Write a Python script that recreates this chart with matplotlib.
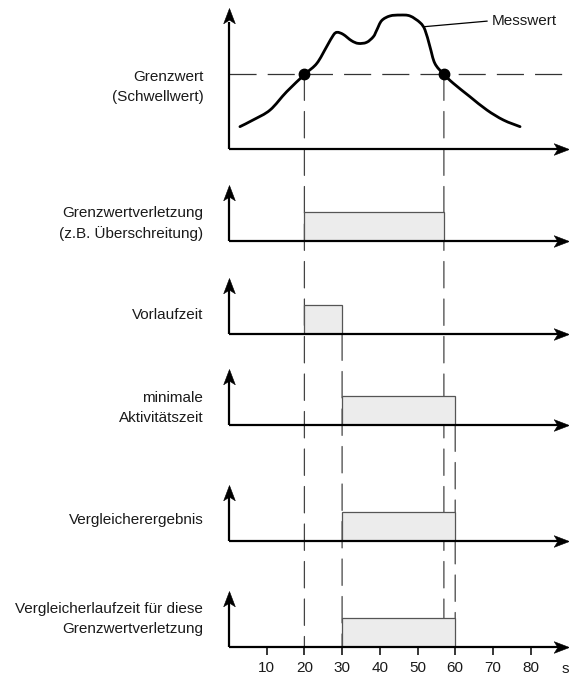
import matplotlib
matplotlib.use("Agg")
import matplotlib.pyplot as plt
from matplotlib.patches import ConnectionPatch, PathPatch
from matplotlib.path import Path

plt.rcParams['font.family'] = ['Liberation Sans', 'DejaVu Sans']
plt.rcParams['lines.scale_dashes'] = False

# ---------------- data ----------------
curve_t = [2.9, 6.5, 10.9, 15.3, 20.2, 23.3, 25.9, 27.7, 28.7, 30.3, 32.5, 34.3,
           36.5, 38.3, 39.2, 40.5, 42.7, 45.4, 48.0, 50.7, 52.0, 53.3, 54.6,
           56.9, 59.5, 63.9, 68.4, 72.8, 77.2]
curve_v = [14.9, 19.5, 26.0, 38.2, 50.0, 57.1, 68.2, 76.0, 77.8, 76.4, 72.2, 70.4,
           71.1, 74.9, 79.3, 85.6, 88.7, 89.3, 88.7, 84.2, 79.3, 68.2, 57.1,
           50.0, 43.8, 34.9, 26.0, 19.3, 14.9]
threshold = 50
crossings = [20, 57]

labels = [
    ["Grenzwert", "(Schwellwert)"],
    ["Grenzwertverletzung", "(z.B. Überschreitung)"],
    ["Vorlaufzeit"],
    ["minimale", "Aktivitätszeit"],
    ["Vergleicherergebnis"],
    ["Vergleicherlaufzeit für diese", "Grenzwertverletzung"],
]
box_start = [20, 20, 30, 30, 30]
box_end = [57, 30, 60, 60, 60]

tick_values = [10, 20, 30, 40, 50, 60, 70, 80]
unit_label = "s"
curve_label = "Messwert"

# ---------------- layout ----------------
W, H = 569, 675
X0 = 229.0          # pixel of t = 0
PPS = 3.77          # pixels per second
XMIN = -3.0
XMAX = (W - X0) / PPS
left_px = X0 + XMIN * PPS

fig = plt.figure(figsize=(W / 100, H / 100), dpi=100)
TXT = '#1a1a1a'
FS = 11


def add_panel(base_px, top_px):
    ax = fig.add_axes([left_px / W, (H - base_px) / H, (W - left_px) / W,
                       (base_px - top_px) / H])
    ax.set_xlim(XMIN, XMAX)
    ax.patch.set_alpha(0)
    for s in ax.spines.values():
        s.set_visible(False)
    ax.set_yticks([])
    ax.set_xticks([])
    return ax


up_head = Path([(0, 0), (-0.38, -1), (0, -0.76), (0.38, -1), (0, 0)],
               [Path.MOVETO, Path.LINETO, Path.LINETO, Path.LINETO, Path.CLOSEPOLY])
right_head = Path([(0, 0), (-1, 0.38), (-0.76, 0), (-1, -0.38), (0, 0)],
                  [Path.MOVETO, Path.LINETO, Path.LINETO, Path.LINETO, Path.CLOSEPOLY])


def draw_axes_arrows(ax, ytop):
    x_end = (568.5 - X0) / PPS
    ax.plot([0, 0], [0, ytop * 0.9], color='k', lw=1.6, clip_on=False,
            solid_capstyle='butt', zorder=4)
    ax.plot([0, x_end - 2], [0, 0], color='k', lw=1.6, clip_on=False,
            solid_capstyle='butt', zorder=4)
    ax.plot([0], [ytop], marker=up_head, ms=22, mew=0.4, color='k',
            clip_on=False, zorder=5)
    ax.plot([x_end], [0], marker=right_head, ms=22, mew=0.4, color='k',
            clip_on=False, zorder=5)


def draw_label(ax, lines, y_center, pitch_pt=14.4):
    n = len(lines)
    for i, line in enumerate(lines):
        off = ((n - 1) / 2 - i) * pitch_pt
        ax.annotate(line, xy=(-6.8, y_center), xytext=(0, off),
                    textcoords='offset points', ha='right',
                    va='center_baseline', fontsize=FS, color=TXT,
                    annotation_clip=False)


def smooth_path(xs, ys):
    """Catmull-Rom curve through the read points, as cubic Bezier segments."""
    pts = list(zip(xs, ys))
    verts = [pts[0]]
    codes = [Path.MOVETO]
    n = len(pts)
    for i in range(n - 1):
        p0 = pts[i - 1] if i > 0 else pts[i]
        p1 = pts[i]
        p2 = pts[i + 1]
        p3 = pts[i + 2] if i + 2 < n else pts[i + 1]
        c1 = (p1[0] + (p2[0] - p0[0]) / 6, p1[1] + (p2[1] - p0[1]) / 6)
        c2 = (p2[0] - (p3[0] - p1[0]) / 6, p2[1] - (p3[1] - p1[1]) / 6)
        verts += [c1, c2, p2]
        codes += [Path.CURVE4] * 3
    return Path(verts, codes)


# top panel
ax1 = add_panel(149, 8)
ax1.set_ylim(0, 94)
draw_axes_arrows(ax1, 94)
ax1.plot([0, XMAX], [threshold, threshold], color='#333333', lw=0.9,
         linestyle=(0, (19.5, 8.0)), zorder=2)
ax1.add_patch(PathPatch(smooth_path(curve_t, curve_v), facecolor='none',
                        edgecolor='k', lw=2.0, capstyle='round',
                        joinstyle='round', zorder=3))
ax1.plot(crossings, [threshold] * len(crossings), 'o', ms=7.5, color='k', zorder=4)
ax1.annotate(curve_label, xy=(51.6, 81.5), xytext=(69.6, 85.5),
             va='center', ha='left', fontsize=FS, color=TXT,
             arrowprops=dict(arrowstyle='-', lw=0.9, color='k',
                             shrinkA=1, shrinkB=0, relpos=(0, 0.5)))
draw_label(ax1, labels[0], 42.4)

# box panels
bases = [241, 334, 425, 541, 647]
label_y = [0.66, 0.70, 0.63, 0.78, 1.03]
BOX_TOP = 1.93
axes = [ax1]
for i, base in enumerate(bases):
    ax = add_panel(base, base - 56)
    ax.set_ylim(0, BOX_TOP)
    draw_axes_arrows(ax, BOX_TOP)
    ax.bar(box_start[i], 1.0, width=box_end[i] - box_start[i], align='edge',
           color='#ececec', edgecolor='#555555', linewidth=0.9, zorder=2)
    draw_label(ax, labels[i + 1], label_y[i])
    axes.append(ax)

ax6 = axes[-1]
ax6.set_xticks(tick_values)
ax6.set_xticklabels([str(v) for v in tick_values])
ax6.tick_params(axis='x', direction='out', length=5.8, width=1.1, pad=4.5,
                labelsize=FS, colors=TXT, color='k')
ax6.annotate(unit_label, xy=(89.2, 0), xytext=(0, -15.5), textcoords='offset points',
             ha='center', va='center', fontsize=FS, color=TXT, annotation_clip=False)

# dashed guide lines
dash = (0, (19.0, 8.0))
guides = [
    ((crossings[0], threshold), ax1, (crossings[0], 0), ax6),
    ((crossings[1], threshold), ax1, (crossings[1], 0), ax6),
    ((box_end[1], 0), axes[2], (box_end[1], 0), ax6),
    ((box_end[2], 0), axes[3], (box_end[2], 0), ax6),
]
for xyA, axA, xyB, axB in guides:
    cp = ConnectionPatch(xyA=xyA, xyB=xyB, coordsA='data', coordsB='data',
                         axesA=axA, axesB=axB, color='#444444', lw=0.9,
                         linestyle=dash, zorder=-1)
    fig.add_artist(cp)

fig.savefig('out.png', dpi=100)
